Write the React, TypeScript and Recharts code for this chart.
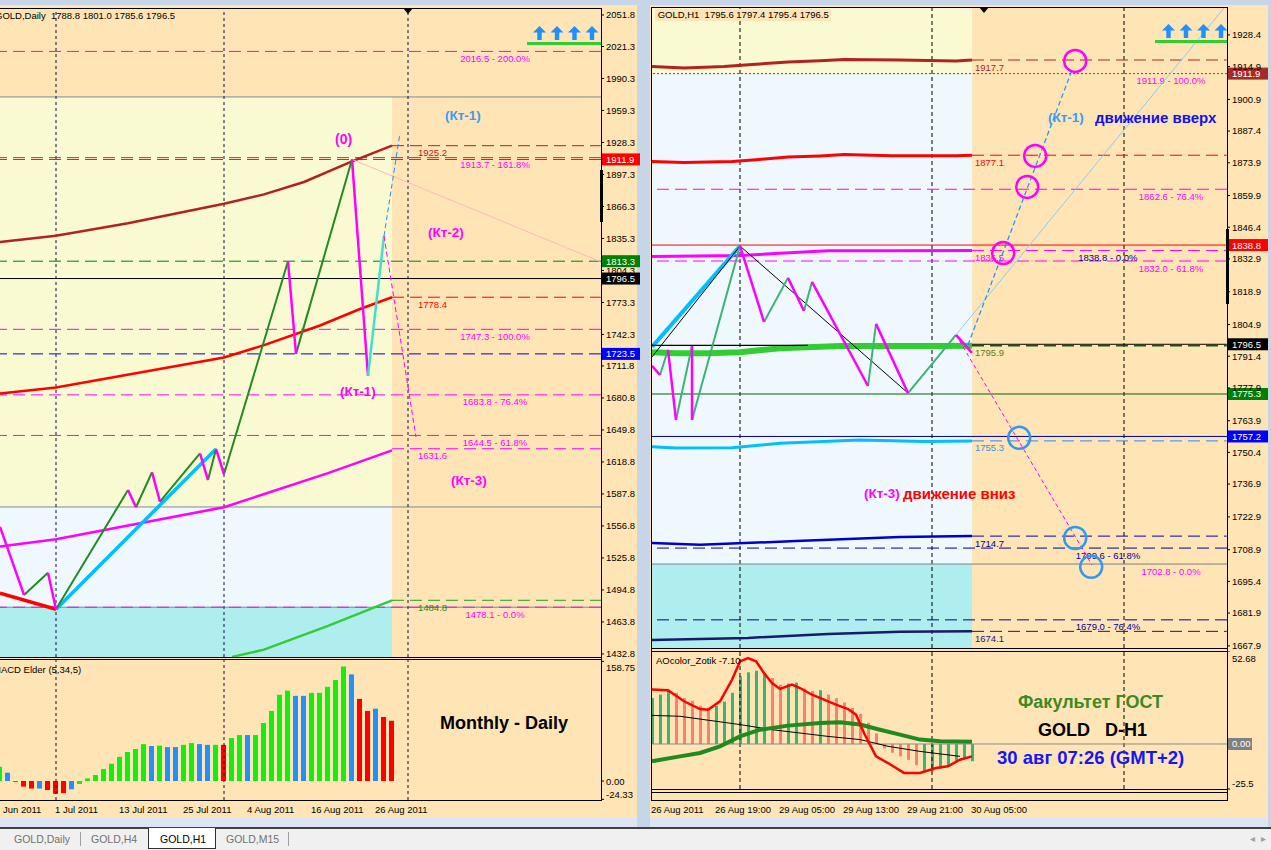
import React from 'react';
import {
  ComposedChart,
  Line,
  Bar,
  Cell,
  XAxis,
  YAxis,
  ReferenceLine,
  ReferenceArea,
  ReferenceDot
} from 'recharts';

const F = '"Liberation Sans", Arial, sans-serif';
const FS = 9.5;
const BG = '#FFE4B5';
const LY = '#FAFAD2';
const AB = '#F0F8FF';
const PT = '#AFEEEE';
const MAG = '#FF00FF';
const NAVY = '#00009a';
const DASH = '12 6';

// ---------- GOLD,Daily ----------
const dailyPriceTicks = [2051.8, 2021.3, 1990.3, 1959.3, 1928.3, 1897.3, 1866.3, 1835.3, 1804.3, 1773.3, 1742.3, 1711.8, 1680.8, 1649.8, 1618.8, 1587.8, 1556.8, 1525.8, 1494.8, 1463.8, 1432.8];
const dailyDateIdx = [0.5, 7, 15, 23, 31, 39, 47];
const dailyDates = ['Jun 2011', '1 Jul 2011', '13 Jul 2011', '25 Jul 2011', '4 Aug 2011', '16 Aug 2011', '26 Aug 2011'];
const dailySeparators = [7, 28, 51];
const dailyLastBar = 49;
const dailyZones = [1972.4, 1575.2, 1478.1];
const dailyMaSlow = [[0, 1832], [7, 1838], [16, 1850], [28, 1869], [33, 1878], [38, 1890], [44, 1910], [49, 1925.2]];
const dailyMaMid = [[0, 1685], [7, 1691], [28, 1720], [33, 1732], [40, 1751], [45, 1767], [49, 1778.4]];
const dailyMaFast = [[0, 1537], [7, 1544], [28, 1575], [41, 1608], [49, 1630]];
const dailyMaLow = [[29, 1430], [33, 1437], [41, 1460], [49, 1484.8]];
const dailyZigzag = [[0, 1556], [3, 1490], [6, 1511.5], [7, 1476.1], [16, 1591.6], [17, 1574.9], [19, 1608.8], [20, 1580.3], [25, 1627.2], [26, 1601.3], [27, 1631.4], [28, 1606.9], [36, 1813.3], [37, 1723.5], [44, 1911.9], [46, 1702.1]];
const dailyTrendLow = [[0, 1491.8], [7, 1476.1]];
const dailyTrendUp = [[7, 1476.1], [27, 1631.4]];
const dailyLastLeg = [[46, 1702.1], [48, 1837.7]];
const dailyProjUp = [[48, 1837.7], [50, 1937.5]];
const dailyProjDown = [[48, 1837.7], [52, 1643]];
const dailyRay = [[44, 1911.9], [75, 1813]];
const dailyFibo = [2016.5, 1913.7, 1747.3, 1683.8, 1644.5, 1478.1];
const dailyFiboPct = ['200.0%', '161.8%', '100.0%', '76.4%', '61.8%', '0.0%'];
const dailyMacd = [19, 11, -1, -7.5, -10, -10, -12, -17, -16, -11, -4, 3.5, 8, 16, 23, 32, 38.5, 42.5, 49, 46.5, 47, 45, 45, 48, 50.4, 49, 48, 48, 48, 57, 61, 61, 61, 77, 93, 114.5, 120, 113, 113, 117, 117, 125, 134, 152, 141.5, 109, 93, 96, 85, 80];
const dailyMacdColor = ['gbrrrbrrrb', 'gggggggggb', 'gbbggbbgrg', 'gbgggggbbg', 'ggggbrrbrr'].join('');
const macdTicks = [158.75, 0, -24.33];
const macdTickText = ['158.75', '0.00', '-24.33'];

// ---------- GOLD,H1 ----------
const h1PriceTicks = [1928.4, 1914.9, 1900.9, 1887.4, 1873.9, 1859.9, 1846.4, 1832.9, 1818.9, 1804.9, 1791.4, 1777.9, 1763.9, 1750.4, 1736.9, 1722.9, 1708.9, 1695.4, 1681.9, 1667.9];
const h1DateIdx = [0, 8, 16, 24, 32, 40];
const h1Dates = ['26 Aug 2011', '26 Aug 19:00', '29 Aug 05:00', '29 Aug 13:00', '29 Aug 21:00', '30 Aug 05:00'];
const h1Separators = [11, 35, 59];
const h1LastBar = 40;
const h1Zones = [1911.9, 1702.8];
const h1MaBrown = [[0, 1914.9], [4, 1914.3], [9, 1914.9], [13, 1915.9], [17, 1916.8], [21, 1917.4], [24, 1917.9], [31, 1917.7], [38, 1917.3], [40, 1917.7]];
const h1MaRed = [[0, 1874.4], [4, 1874.0], [10, 1874.4], [13, 1875.2], [17, 1876.3], [21, 1876.8], [24, 1877.4], [30, 1876.9], [38, 1876.9], [40, 1877.1]];
const h1MaMagenta = [[0, 1833.9], [11, 1834.3], [16, 1835.3], [22, 1836.4], [30, 1836.4], [40, 1836.5]];
const h1MaGreen = [[0, 1793.1], [3, 1792.7], [7, 1792.7], [11, 1793.1], [16, 1794.8], [23.5, 1795.8], [36, 1795.8], [40, 1795.9]];
const h1MaSky = [[0, 1752.8], [3, 1752.3], [10, 1752.4], [16, 1754.3], [26, 1755.7], [34, 1755.0], [40, 1755.3]];
const h1MaBlue = [[0, 1711.8], [6, 1711.0], [18, 1712.6], [31, 1714.3], [40, 1714.7]];
const h1MaNavy = [[0, 1670.4], [12, 1671.3], [22, 1673.0], [31, 1673.9], [40, 1674.1]];
const h1Zigzag = [[0, 1787.3], [1, 1783.4], [2, 1794.1], [3, 1764.2], [5, 1795.8], [5, 1764.2], [11, 1838.4], [14, 1806.0], [17, 1824.8], [19, 1810.7], [20, 1823.1], [27, 1778.7], [28, 1805.2], [32, 1775.7], [38, 1800.5], [40, 1792.8]];
const h1Cyan = [[0, 1795.4], [11, 1838.4]];
const h1Black = [[0, 1791.1], [11, 1838.4], [32, 1775.7]];
const h1BlackFlat = [[0, 1796], [19.5, 1796]];
const h1Ray = [[38, 1800.5], [71.6, 1940.3]];
const h1ProjUp = [[39.5, 1796.2], [52.6, 1914.3]];
const h1ProjDown = [[38, 1800.5], [55, 1702.4]];
const h1CirclesUp = [[52.9, 1917.3], [47.9, 1876.8], [46.9, 1863.6], [43.9, 1835.4]];
const h1CirclesDown = [[45.9, 1756.6], [52.9, 1713.9], [54.9, 1701.6]];
const h1Ao = [26, 28, 30.4, 29, 26, 24.5, 21.7, 20.5, 21.5, 24, 29, 38.3, 40.6, 41.5, 39.6, 37.4, 33.6, 34.2, 34.8, 31.5, 30, 30.5, 28, 26, 23.5, 20.5, 17, 12, 6, -2.5, -5, -7, -9, -12, -16, -15.5, -14, -12, -10, -8, -9.8];
const h1AoColor = ['gggsssssgg', 'gggggssggs', 'sgssssssss', 'ssssgggggg', 'g'].join('');
const aoSignal = [[0, 30.8], [2, 30.4], [4, 24.2], [6, 19.8], [7, 19.4], [8.5, 24.2], [10, 36.4], [11, 46.8], [12, 48.7], [13, 46.8], [14, 40.2], [15, 34.5], [16, 31.2], [17.5, 33.6], [18.5, 31.7], [20, 27.9], [21.5, 25.1], [23, 22.3], [24.5, 19.8], [25.5, 16.6], [26.5, 6.2], [28, -7], [29.5, -10.8], [31.5, -16.4], [33.5, -16.4], [35.5, -13.6], [37, -12.6], [38.5, -8.9], [40, -7]];
const aoSlow = [[0, -9.8], [3.5, -7], [6, -5.1], [8.5, -1.3], [11, 4.3], [13.5, 8.1], [17, 10.4], [21, 11.9], [23.5, 12.3], [26, 11], [28.5, 8.1], [31, 5.3], [33.5, 2.5], [36, 1.5], [40, 1.3]];
const aoThin = [[0, 16.2], [3.5, 15.7], [6.5, 13.8], [11, 11], [15, 8.1], [18.5, 6.2], [22, 4.3], [26, 2.5], [29.5, -1.3], [33.5, -4.2], [38.5, -7]];
const aoTicks = [52.68, -25.5];
const aoTickText = ['52.68', '-25.5'];

const MACD_COL: Record<string, string> = { g: '#10F010', b: '#1E90FF', r: '#FF0000' };
const AO_COL: Record<string, string> = { g: '#3CB371', s: '#FA8072' };

const D_X: [number, number] = [0, 75.125];
const D_Y: [number, number] = [1429.86, 2058.58];
const H_X: [number, number] = [-0.125, 71.875];
const H_Y: [number, number] = [1667.0, 1940.3];
const D_END = 75.1;
const H_END = 71.85;

const toPts = (a: number[][]) => a.map(([i, v]) => ({ i, v }));

function zig(a: number[][]) {
  const up: any[] = [];
  const down: any[] = [];
  for (let k = 1; k < a.length; k++) {
    const [i0, v0] = a[k - 1];
    const [i1, v1] = a[k];
    (v1 > v0 ? up : down).push({ i: i0, v: v0 }, { i: i1, v: v1 }, { i: i1, v: null });
  }
  return { up, down };
}

const ln = (key: string, data: any[], color: string, w: number, dash?: string) => (
  <Line
    key={key}
    data={data}
    dataKey="v"
    type="linear"
    stroke={color}
    strokeWidth={w}
    strokeDasharray={dash}
    dot={false}
    activeDot={false}
    connectNulls={false}
    isAnimationActive={false}
  />
);

const lvlText = (text: string, color: string, dx: number, anchor: string = 'start', fromEnd = false) => (p: any) => {
  const vb = p.viewBox || {};
  const x = (fromEnd ? vb.x + vb.width : vb.x) + dx;
  return (
    <text x={x} y={vb.y + 10.5} fill={color} fontSize={FS} fontFamily={F} textAnchor={anchor}>
      {text}
    </text>
  );
};

const badge = (text: string, bg: string, w: number) => (p: any) => {
  const vb = p.viewBox || {};
  const x = vb.x + vb.width + 1;
  return (
    <g>
      <rect x={x} y={vb.y - 6} width={w} height={12} fill={bg} />
      <text x={x + 4} y={vb.y + 3.5} fill="#fff" fontSize={FS} fontFamily={F}>
        {text}
      </text>
    </g>
  );
};

const both = (...fs: any[]) => (p: any) => (
  <g>
    {fs.map((f, k) => (
      <React.Fragment key={k}>{f(p)}</React.Fragment>
    ))}
  </g>
);

const timeTick = (idx: number[], labels: string[], dy: number) => (p: any) => {
  const k = idx.indexOf(p.payload.value);
  return (
    <text x={p.x - 1} y={p.y + dy} fontSize={FS} fontFamily={F} fill="#000">
      {labels[k]}
    </text>
  );
};

const edgeTick = (vals: number[], texts: string[], dys: number[]) => (p: any) => {
  const k = vals.indexOf(p.payload.value);
  return (
    <text x={p.x} y={p.y + 3.5 + (dys[k] || 0)} fontSize={FS} fontFamily={F} fill="#000">
      {texts[k]}
    </text>
  );
};

const priceAxis = (w: number, domain: [number, number], ticks: number[]) => (
  <YAxis
    orientation="right"
    width={w}
    domain={domain}
    ticks={ticks}
    interval={0}
    allowDataOverflow
    axisLine={false}
    tickSize={3}
    tickLine={{ stroke: '#000' }}
    tick={{ fontSize: FS, fill: '#000', fontFamily: F }}
    tickFormatter={(v: number) => v.toFixed(1)}
  />
);

function DailyMain() {
  const z = zig(dailyZigzag);
  const seg = (y: number) => [{ x: dailyLastBar, y }, { x: D_END, y }];
  return (
    <ComposedChart width={640} height={657} margin={{ top: 0, right: 0, bottom: 8, left: 0 }}>
      <XAxis dataKey="i" type="number" domain={D_X} hide allowDataOverflow />
      {priceAxis(39, D_Y, dailyPriceTicks)}
      <ReferenceArea x1={0} x2={dailyLastBar} y1={dailyZones[1]} y2={dailyZones[0]} fill={LY} fillOpacity={1} stroke="none" ifOverflow="visible" />
      <ReferenceArea x1={0} x2={dailyLastBar} y1={dailyZones[2]} y2={dailyZones[1]} fill={AB} fillOpacity={1} stroke="none" ifOverflow="visible" />
      <ReferenceArea x1={0} x2={dailyLastBar} y1={D_Y[0]} y2={dailyZones[2]} fill={PT} fillOpacity={1} stroke="none" ifOverflow="visible" />
      {dailyZones.map((v) => (
        <ReferenceLine key={'z' + v} y={v} stroke="#7a8a9c" ifOverflow="visible" />
      ))}
      {dailySeparators.map((i) => (
        <ReferenceLine key={'s' + i} x={i} stroke="#10104a" strokeDasharray="3 3" ifOverflow="visible" />
      ))}
      {dailyFibo.map((v, k) => (
        <ReferenceLine
          key={'f' + v}
          y={v}
          stroke={MAG}
          strokeDasharray={DASH}
          ifOverflow="visible"
          label={lvlText(`${v.toFixed(1)} - ${dailyFiboPct[k]}`, MAG, -106, 'middle', true)}
        />
      ))}
      <ReferenceLine y={1911.9} stroke="#FF0000" strokeDasharray={DASH} ifOverflow="visible" />
      <ReferenceLine y={1813.3} stroke="#008000" strokeDasharray={DASH} ifOverflow="visible" />
      <ReferenceLine y={1796.5} stroke="#000" ifOverflow="visible" />
      <ReferenceLine y={1723.5} stroke="#0000CD" strokeDasharray={DASH} ifOverflow="visible" />
      <ReferenceLine segment={seg(1925.2)} stroke="#B22222" strokeDasharray={DASH} ifOverflow="visible" label={lvlText('1925.2', '#B22222', 26)} />
      <ReferenceLine segment={seg(1778.4)} stroke="#FF0000" strokeDasharray={DASH} ifOverflow="visible" label={lvlText('1778.4', '#FF0000', 26)} />
      <ReferenceLine segment={seg(1631.6)} stroke={MAG} strokeDasharray={DASH} ifOverflow="visible" label={lvlText('1631.6', MAG, 26)} />
      <ReferenceLine segment={seg(1484.8)} stroke="#22A022" strokeDasharray={DASH} ifOverflow="visible" label={lvlText('1484.8', '#228B22', 26)} />
      {ln('maSlow', toPts(dailyMaSlow), '#B22222', 2.5)}
      {ln('maMid', toPts(dailyMaMid), '#FF0000', 2.5)}
      {ln('maFast', toPts(dailyMaFast), MAG, 2.5)}
      {ln('maLow', toPts(dailyMaLow), '#32CD32', 2.5)}
      {ln('ray', toPts(dailyRay), '#FFB6C1', 1)}
      {ln('trLow', toPts(dailyTrendLow), '#FF0000', 3.5)}
      {ln('trUp', toPts(dailyTrendUp), '#00BFFF', 3.5)}
      {ln('zzUp', z.up, '#228B22', 2)}
      {ln('zzDown', z.down, MAG, 2.5)}
      {ln('lastLeg', toPts(dailyLastLeg), '#40E0D0', 2.5)}
      {ln('projUp', toPts(dailyProjUp), '#1E90FF', 1, '5 3')}
      {ln('projDown', toPts(dailyProjDown), MAG, 1, '5 3')}
      <ReferenceLine y={1911.9} stroke="none" ifOverflow="visible" label={badge('1911.9', '#FF0000', 38)} />
      <ReferenceLine y={1813.3} stroke="none" ifOverflow="visible" label={badge('1813.3', '#008000', 38)} />
      <ReferenceLine y={1796.5} stroke="none" ifOverflow="visible" label={badge('1796.5', '#000', 38)} />
      <ReferenceLine y={1723.5} stroke="none" ifOverflow="visible" label={badge('1723.5', '#0000FF', 38)} />
    </ComposedChart>
  );
}

function DailyMacd() {
  const data = dailyMacd.map((v, i) => ({ i, v }));
  return (
    <ComposedChart width={640} height={160} data={data} margin={{ top: 0, right: 0, bottom: 0, left: 0 }}>
      <XAxis
        dataKey="i"
        type="number"
        domain={D_X}
        allowDataOverflow
        height={20}
        ticks={dailyDateIdx}
        interval={0}
        tickSize={0}
        tickMargin={0}
        axisLine={false}
        tick={timeTick(dailyDateIdx, dailyDates, 13)}
      />
      <YAxis
        orientation="right"
        width={39}
        domain={[-25.2, 160.6]}
        allowDataOverflow
        ticks={macdTicks}
        interval={0}
        axisLine={false}
        tickSize={3}
        tickLine={{ stroke: '#000' }}
        tick={edgeTick(macdTicks, macdTickText, [6, 0, -5])}
      />
      {dailySeparators.map((i) => (
        <ReferenceLine key={'s' + i} x={i} stroke="#10104a" strokeDasharray="3 3" ifOverflow="visible" />
      ))}
      <Bar dataKey="v" barSize={5} isAnimationActive={false}>
        {data.map((d, k) => (
          <Cell key={k} fill={MACD_COL[dailyMacdColor[k]]} />
        ))}
      </Bar>
    </ComposedChart>
  );
}

function H1Main() {
  const z = zig(h1Zigzag);
  const seg = (y: number) => [{ x: h1LastBar, y }, { x: H_END, y }];
  return (
    <ComposedChart width={620} height={648} margin={{ top: 0, right: 0, bottom: 7, left: 0 }}>
      <XAxis dataKey="i" type="number" domain={H_X} hide allowDataOverflow />
      {priceAxis(44, H_Y, h1PriceTicks)}
      <ReferenceArea x1={H_X[0]} x2={h1LastBar} y1={h1Zones[0]} y2={H_Y[1]} fill={LY} fillOpacity={1} stroke="none" ifOverflow="visible" />
      <ReferenceArea x1={H_X[0]} x2={h1LastBar} y1={h1Zones[1]} y2={h1Zones[0]} fill={AB} fillOpacity={1} stroke="none" ifOverflow="visible" />
      <ReferenceArea x1={H_X[0]} x2={h1LastBar} y1={H_Y[0]} y2={h1Zones[1]} fill={PT} fillOpacity={1} stroke="none" ifOverflow="visible" />
      {h1Separators.map((i) => (
        <ReferenceLine key={'s' + i} x={i} stroke="#000" strokeDasharray="4 3" ifOverflow="visible" />
      ))}
      <ReferenceLine y={1911.9} stroke="#8B4513" strokeDasharray="2 2" ifOverflow="visible" label={lvlText('1911.9 - 100.0%', MAG, -56, 'middle', true)} />
      <ReferenceLine y={1862.6} stroke={MAG} strokeDasharray={DASH} ifOverflow="visible" label={lvlText('1862.6 - 76.4%', MAG, -56, 'middle', true)} />
      <ReferenceLine y={1838.8} stroke="#FF0000" ifOverflow="visible" />
      <ReferenceLine y={1832.0} stroke={MAG} strokeDasharray={DASH} ifOverflow="visible" label={lvlText('1832.0 - 61.8%', MAG, -56, 'middle', true)} />
      <ReferenceLine y={1775.3} stroke="#006400" ifOverflow="visible" />
      <ReferenceLine y={1757.2} stroke={NAVY} ifOverflow="visible" />
      <ReferenceLine y={1709.6} stroke={NAVY} strokeDasharray={DASH} ifOverflow="visible" label={lvlText('1709.6 - 61.8%', NAVY, -119, 'middle', true)} />
      <ReferenceLine y={1702.8} stroke="#808080" ifOverflow="visible" label={lvlText('1702.8 - 0.0%', MAG, -56, 'middle', true)} />
      <ReferenceLine y={1679.0} stroke={NAVY} strokeDasharray={DASH} ifOverflow="visible" label={lvlText('1679.0 - 76.4%', NAVY, -119, 'middle', true)} />
      <ReferenceLine segment={seg(1917.7)} stroke="#B22222" strokeDasharray={DASH} ifOverflow="visible" label={lvlText('1917.7', '#B22222', 3)} />
      <ReferenceLine segment={seg(1877.1)} stroke="#FF0000" strokeDasharray={DASH} ifOverflow="visible" label={lvlText('1877.1', '#FF0000', 3)} />
      <ReferenceLine
        segment={seg(1836.5)}
        stroke={MAG}
        strokeDasharray={DASH}
        ifOverflow="visible"
        label={both(lvlText('1836.5', MAG, 3), lvlText('1838.8 - 0.0%', NAVY, -119, 'middle', true))}
      />
      <ReferenceLine segment={seg(1796.5)} stroke="#000" ifOverflow="visible" />
      <ReferenceLine segment={seg(1795.9)} stroke="#006400" strokeDasharray={DASH} strokeWidth={1.5} ifOverflow="visible" label={lvlText('1795.9', '#5a7f1e', 3)} />
      <ReferenceLine segment={seg(1755.3)} stroke="#1E90FF" strokeDasharray={DASH} ifOverflow="visible" label={lvlText('1755.3', '#3a8ee6', 3)} />
      <ReferenceLine segment={seg(1714.7)} stroke="#0000CD" strokeDasharray={DASH} ifOverflow="visible" label={lvlText('1714.7', NAVY, 3)} />
      <ReferenceLine segment={seg(1674.1)} stroke="#191970" strokeDasharray={DASH} ifOverflow="visible" label={lvlText('1674.1', '#191970', 3)} />
      {ln('maBrown', toPts(h1MaBrown), '#B22222', 3)}
      {ln('maRed', toPts(h1MaRed), '#FF0000', 3)}
      {ln('maMag', toPts(h1MaMagenta), MAG, 3)}
      {ln('maGreen', toPts(h1MaGreen), '#32CD32', 6)}
      {ln('maSky', toPts(h1MaSky), '#00BFFF', 3)}
      {ln('maBlue', toPts(h1MaBlue), '#0000CD', 2.5)}
      {ln('maNavy', toPts(h1MaNavy), '#191970', 2.5)}
      {ln('cyan', toPts(h1Cyan), '#00BFFF', 4)}
      {ln('black', toPts(h1Black), '#000', 1)}
      {ln('blackFlat', toPts(h1BlackFlat), '#000', 1.2)}
      {ln('zzUp', z.up, '#3CB371', 2)}
      {ln('zzDown', z.down, MAG, 2.5)}
      {ln('ray', toPts(h1Ray), '#87CEFA', 1)}
      {ln('projUp', toPts(h1ProjUp), '#1E90FF', 1.2, '5 3')}
      {ln('projDown', toPts(h1ProjDown), MAG, 1, '4 3')}
      {h1CirclesUp.map(([i, v], k) => (
        <ReferenceDot key={'cu' + k} x={i} y={v} r={11} fill="none" stroke={MAG} strokeWidth={2.5} ifOverflow="visible" />
      ))}
      {h1CirclesDown.map(([i, v], k) => (
        <ReferenceDot key={'cd' + k} x={i} y={v} r={11} fill="none" stroke="#2E9AF0" strokeWidth={2.5} ifOverflow="visible" />
      ))}
      <ReferenceLine y={1911.9} stroke="none" ifOverflow="visible" label={badge('1911.9', '#A52A2A', 40)} />
      <ReferenceLine y={1838.8} stroke="none" ifOverflow="visible" label={badge('1838.8', '#FF0000', 40)} />
      <ReferenceLine y={1796.5} stroke="none" ifOverflow="visible" label={badge('1796.5', '#000', 40)} />
      <ReferenceLine y={1775.3} stroke="none" ifOverflow="visible" label={badge('1775.3', '#008000', 40)} />
      <ReferenceLine y={1757.2} stroke="none" ifOverflow="visible" label={badge('1757.2', '#0000FF', 40)} />
    </ComposedChart>
  );
}

function H1Ao() {
  const data = h1Ao.map((v, i) => ({ i, v }));
  return (
    <ComposedChart width={620} height={169} data={data} margin={{ top: 0, right: 0, bottom: 0, left: 0 }}>
      <XAxis
        dataKey="i"
        type="number"
        domain={H_X}
        allowDataOverflow
        height={31}
        ticks={h1DateIdx}
        interval={0}
        tickSize={0}
        tickMargin={0}
        axisLine={false}
        tick={timeTick(h1DateIdx, h1Dates, 24)}
      />
      <YAxis
        orientation="right"
        width={44}
        domain={[-25.5, 52.68]}
        allowDataOverflow
        ticks={aoTicks}
        interval={0}
        axisLine={false}
        tickSize={3}
        tickLine={{ stroke: '#000' }}
        tick={edgeTick(aoTicks, aoTickText, [7, -6])}
      />
      {h1Separators.map((i) => (
        <ReferenceLine key={'s' + i} x={i} stroke="#000" strokeDasharray="4 3" ifOverflow="visible" />
      ))}
      <ReferenceLine y={0} stroke="#8c8c8c" ifOverflow="visible" label={badge('0.00', '#808080', 24)} />
      <Bar dataKey="v" barSize={3} isAnimationActive={false}>
        {data.map((d, k) => (
          <Cell key={k} fill={AO_COL[h1AoColor[k]]} />
        ))}
      </Bar>
      {ln('aoThin', toPts(aoThin), '#000', 1)}
      {ln('aoSlow', toPts(aoSlow), '#1F8A1F', 4)}
      {ln('aoSignal', toPts(aoSignal), '#FF0000', 2.5)}
    </ComposedChart>
  );
}

const T = ({ x, y, size = FS, color = '#000', bold = false, bg, children }: any) => (
  <div
    style={{
      position: 'absolute',
      left: x,
      top: y - size * 0.6,
      fontSize: size,
      lineHeight: `${size * 1.2}px`,
      color,
      fontWeight: bold ? 700 : 400,
      whiteSpace: 'pre',
      fontFamily: F,
      background: bg
    }}
  >
    {children}
  </div>
);

const Arrows = ({ x, y }: any) => (
  <svg style={{ position: 'absolute', left: x, top: y }} width={70} height={15}>
    {[0, 1, 2, 3].map((k) => {
      const o = k * 17.5;
      return (
        <path
          key={k}
          d={`M${o} 6.5 L${o + 6.5} 0 L${o + 13} 6.5 L${o + 8.7} 6.5 L${o + 8.7} 14 L${o + 4.3} 14 L${o + 4.3} 6.5 Z`}
          fill="#1E90FF"
        />
      );
    })}
  </svg>
);

const H = (x1: number, x2: number, y: number, c = '#000') => (
  <div style={{ position: 'absolute', left: x1, top: y, width: x2 - x1, height: 1, background: c }} />
);
const V = (x: number, y1: number, y2: number, c = '#000') => (
  <div style={{ position: 'absolute', left: x, top: y1, width: 1, height: y2 - y1, background: c }} />
);
const abs = (left: number, top: number): React.CSSProperties => ({ position: 'absolute', left, top });

const Tri = ({ x, y }: any) => (
  <div style={{ position: 'absolute', left: x - 5, top: y, width: 0, height: 0, borderLeft: '5px solid transparent', borderRight: '5px solid transparent', borderTop: '6px solid #000' }} />
);

export default function App() {
  return (
    <div style={{ position: 'fixed', left: 0, top: 0, width: 1271, height: 850, overflow: 'hidden', background: '#c6d6e8', fontFamily: F }}>
      <div style={{ position: 'absolute', left: 0, top: 5, width: 637, height: 813, background: BG }} />
      <div style={{ position: 'absolute', left: 650, top: 5, width: 618, height: 813, background: BG }} />
      <div style={{ position: 'absolute', left: 0, top: 818, width: 637, height: 9, background: '#dbe6f2' }} />
      <div style={{ position: 'absolute', left: 650, top: 818, width: 618, height: 9, background: '#dbe6f2' }} />

      <div style={abs(0, 8)}>
        <DailyMain />
      </div>
      <div style={abs(0, 660)}>
        <DailyMacd />
      </div>
      <div style={abs(651, 7)}>
        <H1Main />
      </div>
      <div style={abs(651, 651)}>
        <H1Ao />
      </div>

      {/* frames */}
      {H(0, 601, 8)}
      {H(0, 601, 657)}
      {H(0, 601, 659)}
      {H(0, 601, 800)}
      {V(601, 8, 801)}
      <div style={{ position: 'absolute', left: 600, top: 170, width: 3, height: 52, background: '#000' }} />
      {H(651, 1227, 7)}
      {H(651, 1227, 648)}
      {H(651, 1227, 651)}
      {H(651, 1227, 789)}
      {H(651, 1227, 792)}
      {H(651, 1227, 800)}
      {V(651, 7, 801)}
      {V(1227, 7, 801)}
      <div style={{ position: 'absolute', left: 1226, top: 229, width: 3, height: 75, background: '#000' }} />
      <Tri x={408} y={8} />
      <Tri x={984} y={7} />

      {/* left texts */}
      <T x={-5} y={16}>{'GOLD,Daily  1788.8 1801.0 1785.6 1796.5'}</T>
      <T x={-7} y={670}>MACD Elder (5,34,5)</T>
      <T x={335} y={139} size={14} bold color={MAG}>(0)</T>
      <T x={445} y={116} size={13.5} bold color="#3a9cf5">(Кт-1)</T>
      <T x={428} y={233} size={13.5} bold color={MAG}>(Кт-2)</T>
      <T x={340} y={392} size={13.5} bold color={MAG}>(Кт-1)</T>
      <T x={451} y={481} size={13.5} bold color={MAG}>(Кт-3)</T>
      <Arrows x={533} y={26} />
      <div style={{ position: 'absolute', left: 527, top: 42, width: 74, height: 3, background: '#32CD32' }} />
      <T x={440} y={724} size={18} bold>Monthly - Daily</T>

      {/* right texts */}
      <T x={655} y={15} bg={BG}>{' GOLD,H1  1795.6 1797.4 1795.4 1796.5 '}</T>
      <T x={656} y={661}>AOcolor_Zotik -7.10</T>
      <T x={1048} y={118} size={13.5} bold color="#3a9cf5">(Кт-1)</T>
      <T x={1095} y={118} size={15} bold color="#1010EE">движение вверх</T>
      <T x={864} y={494} size={13.5} bold color={MAG}>(Кт-3)</T>
      <T x={903} y={494} size={15} bold color="#FF0000">движение вниз</T>
      <Arrows x={1162} y={24} />
      <div style={{ position: 'absolute', left: 1155, top: 40, width: 72, height: 3, background: '#32CD32' }} />
      <T x={1018} y={703} size={18} bold color="#3b8a23">Факультет ГОСТ</T>
      <T x={1038} y={731} size={18} bold>{'GOLD   D-H1'}</T>
      <T x={997} y={758} size={18.5} bold color="#1515FF">30 авг 07:26 (GMT+2)</T>

      {/* tabs */}
      <div style={{ position: 'absolute', left: 0, top: 827, width: 1271, height: 23, background: '#f0f0f0', borderTop: '2px solid #404040' }} />
      <div style={{ position: 'absolute', left: 148, top: 828, width: 66, height: 20, background: '#fff', border: '1px solid #303030', borderTop: 'none' }} />
      <T x={14} y={839} size={10.5} color="#707070">GOLD,Daily</T>
      {V(80, 832, 846, '#a0a0a0')}
      <T x={91} y={839} size={10.5} color="#707070">GOLD,H4</T>
      <T x={160} y={839} size={10.5}>GOLD,H1</T>
      <T x={226} y={839} size={10.5} color="#707070">GOLD,M15</T>
      {V(288, 832, 846, '#a0a0a0')}
      <T x={1250} y={839} size={10} color="#a0a0a0">{'◂  ▸'}</T>
    </div>
  );
}
